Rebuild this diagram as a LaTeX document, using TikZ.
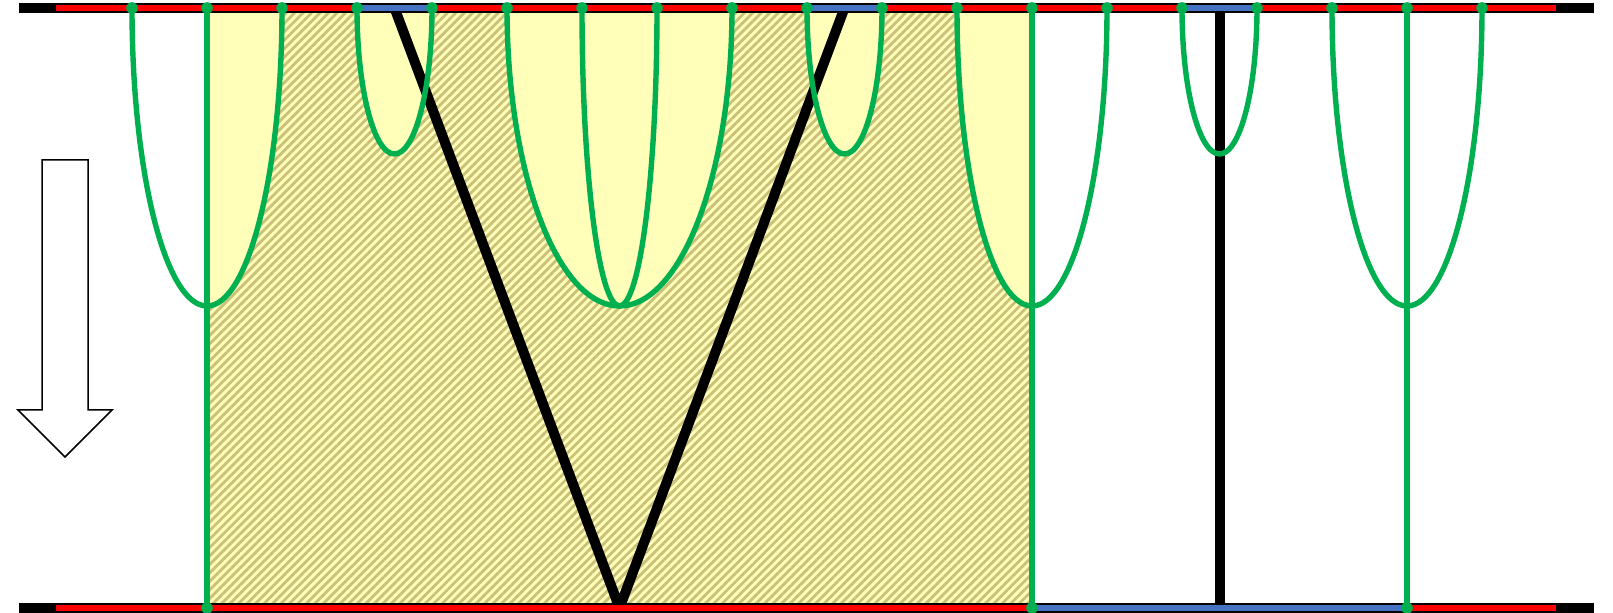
\documentclass[tikz,border=0pt]{standalone}
\usetikzlibrary{patterns.meta}
\definecolor{gr}{HTML}{00B050}
\definecolor{bl}{HTML}{4472C4}
\definecolor{yl}{RGB}{255,255,185}
\definecolor{hatchc}{RGB}{202,192,120}
\begin{document}
\begin{tikzpicture}[x=0.5pt,y=-0.5pt,
  greenline/.style={draw=gr,line width=2.7pt},
  blackbar/.style={draw=black,line width=5pt},
  redbar/.style={draw=red,line width=3pt},
  bluebar/.style={draw=bl,line width=3pt},
  wall/.style={draw=black,line width=5pt},
  gdot/.style={fill=gr},
  inside/.style={fill=yl},
  bigU/.style={start angle=180,end angle=360,x radius=37.5pt,y radius=149pt},
  wideU/.style={start angle=180,end angle=360,x radius=56.25pt,y radius=149pt},
  smallU/.style={start angle=180,end angle=360,x radius=18.75pt,y radius=73pt},
  narrowU/.style={start angle=180,end angle=360,x radius=18.75pt,y radius=149pt},
  hatched/.style={pattern={Lines[angle=45,distance=3pt,line width=1.4pt]},pattern color=hatchc},
  flow/.style={draw=black,fill=white,line width=0.75pt,line join=miter}]
\useasboundingbox (0,0) rectangle (1613,613);
% coordinates
\foreach \i in {0,...,18}{\coordinate (t\i) at ({132+75*\i},8);}
\coordinate (bA) at (207,608);
\coordinate (bB) at (1032,608);
\coordinate (bC) at (1407,608);
\coordinate (vtop1) at (394.5,8);
\coordinate (vtop2) at (844.5,8);
\coordinate (vbot) at (619.5,608);
\coordinate (wtop) at (1219.5,8);
\coordinate (wbot) at (1219.5,608);
% shaded region
\fill[yl] (207,8) rectangle (1032,608);
\fill[hatched] (207,8) rectangle (1032,608);
\begin{scope}
\clip (207,8) rectangle (1032,608);
\fill[inside] (t0) arc[bigU] -- cycle;
\fill[inside] (t3) arc[smallU] -- cycle;
\fill[inside] (t5) arc[wideU] -- cycle;
\fill[inside] (t9) arc[smallU] -- cycle;
\fill[inside] (t11) arc[bigU] -- cycle;
\end{scope}
% black walls
\draw[wall] (vtop1) -- (vbot) -- (vtop2);
\draw[wall] (wtop) -- (wbot);
% green curves
\draw[greenline] (t0) arc[bigU];
\draw[greenline] (t3) arc[smallU];
\draw[greenline] (t5) arc[wideU];
\draw[greenline] (t6) arc[narrowU];
\draw[greenline] (t9) arc[smallU];
\draw[greenline] (t11) arc[bigU];
\draw[greenline] (t14) arc[smallU];
\draw[greenline] (t16) arc[bigU];
\draw[greenline] (t1) -- (bA);
\draw[greenline] (t12) -- (bB);
\draw[greenline] (t17) -- (bC);
% bars
\draw[blackbar] (19,8) -- (1594,8);
\draw[blackbar] (19,608) -- (1594,608);
\draw[redbar] (56,8) -- (1556,8);
\draw[bluebar] (t3) -- (t4);
\draw[bluebar] (t9) -- (t10);
\draw[bluebar] (t14) -- (t15);
\draw[redbar] (56,608) -- (bB);
\draw[bluebar] (bB) -- (bC);
\draw[redbar] (bC) -- (1556,608);
% dots
\foreach \i in {0,...,18}{\fill[gdot] (t\i) circle[radius=2.9pt];}
\fill[gdot] (bA) circle[radius=2.9pt];
\fill[gdot] (bB) circle[radius=2.9pt];
\fill[gdot] (bC) circle[radius=2.9pt];
% flow arrow
\draw[flow] (42,160) -- (88,160) -- (88,410) -- (112,410) -- (65,457) -- (18,410) -- (42,410) -- cycle;
\end{tikzpicture}
\end{document}
